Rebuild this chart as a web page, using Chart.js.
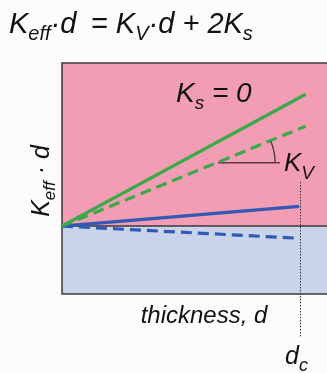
<!DOCTYPE html>
<html>
<head>
<meta charset="utf-8">
<script src="https://cdn.jsdelivr.net/npm/chart.js@4"></script>
<style>
  html, body { margin: 0; padding: 0; background: #fcfcfc; overflow: hidden; }
  #wrap { width: 327px; height: 373px; position: relative; }
</style>
</head>
<body>
<div id="wrap"><canvas id="chart"></canvas></div>
<script>
// Schematic values (arbitrary units): thickness on x, Keff*d on y
const dEnd = [0, 0.92];
const greenSolid = [0, 1.94];   // Ks > 0, without interface term
const greenDashed = [0, 1.47];  // Ks = 0 reference slope
const dEndBlue = [0, 0.895];
const blueSolid = [0, 0.29];
const blueDashed = [0, -0.18];
const dc = 0.9;
const dcSpan = [0.65, -1.63];
const kvLineX = [0.589, 0.823];
const kvLineY = 0.93;

const FONT = '"Liberation Sans", Arial, sans-serif';
const green = '#3ba84a';
const blue = '#3459b4';

function pts(xs, ys) {
  return xs.map((x, i) => ({ x: x, y: ys[i] }));
}

// draws text with subscripts: parts = [[text, isSub], ...]
function drawRich(ctx, x, y, parts, size, subSize, subDrop) {
  parts.forEach(([t, sub]) => {
    ctx.font = 'italic ' + (sub ? subSize : size) + 'px ' + FONT;
    ctx.fillText(t, x, sub ? y + subDrop : y);
    x += ctx.measureText(t).width;
  });
}

function richWidth(ctx, parts, size, subSize) {
  let w = 0;
  parts.forEach(([t, sub]) => {
    ctx.font = 'italic ' + (sub ? subSize : size) + 'px ' + FONT;
    w += ctx.measureText(t).width;
  });
  return w;
}

const decor = {
  id: 'decor',
  beforeDraw(chart) {
    const { ctx, chartArea: a, scales: { y } } = chart;
    const y0 = y.getPixelForValue(0);
    ctx.save();
    ctx.fillStyle = '#fcfcfc';
    ctx.fillRect(0, 0, chart.width, chart.height);
    ctx.fillStyle = '#f29db3';
    ctx.fillRect(a.left, a.top, chart.width - a.left, y0 - a.top);
    ctx.fillStyle = '#c9d4ea';
    ctx.fillRect(a.left, y0, chart.width - a.left, a.bottom - y0);
    ctx.strokeStyle = '#3a3a3a';
    ctx.lineWidth = 1.5;
    ctx.beginPath();
    ctx.moveTo(chart.width, a.top); ctx.lineTo(a.left, a.top);
    ctx.lineTo(a.left, a.bottom); ctx.lineTo(chart.width, a.bottom);
    ctx.moveTo(a.left, y0); ctx.lineTo(chart.width, y0);
    ctx.stroke();
    ctx.restore();
  },
  afterDraw(chart) {
    const { ctx, scales: { x, y } } = chart;
    ctx.save();
    // angle arc for K_V
    const cx = x.getPixelForValue(kvLineX[0]);
    const cy = y.getPixelForValue(kvLineY);
    const sx = x.getPixelForValue(dEnd[1]) - x.getPixelForValue(dEnd[0]);
    const sy = y.getPixelForValue(greenDashed[0]) - y.getPixelForValue(greenDashed[1]);
    const ang = Math.atan2(sy, sx);
    ctx.strokeStyle = '#4a3444';
    ctx.lineWidth = 1.3;
    ctx.beginPath();
    ctx.arc(cx, cy, 57, -ang, 0);
    ctx.stroke();

    ctx.fillStyle = '#111';
    ctx.textBaseline = 'alphabetic';
    drawRich(ctx, 9, 33, [['K', 0], ['eff', 1], ['·d\u2002= K', 0], ['V', 1], ['·d + 2K', 0], ['s', 1]], 29, 20, 7);
    drawRich(ctx, 176, 102, [['K', 0], ['s', 1], [' = 0', 0]], 28, 19, 7);
    drawRich(ctx, 284, 171, [['K', 0], ['V', 1]], 26, 19, 8);
    drawRich(ctx, 285, 364, [['d', 0], ['c', 1]], 25, 18, 7);
    ctx.font = 'italic 24px ' + FONT;
    ctx.textAlign = 'center';
    ctx.fillText('thickness, d', 204, 323);
    // rotated y label
    ctx.translate(49, 181);
    ctx.rotate(-Math.PI / 2);
    ctx.textAlign = 'left';
    const yParts = [['K', 0], ['eff', 1], [' · d', 0]];
    const w = richWidth(ctx, yParts, 25, 17);
    drawRich(ctx, -w / 2, 0, yParts, 25, 17, 6);
    ctx.restore();
  }
};

new Chart(document.getElementById('chart'), {
  type: 'line',
  data: {
    datasets: [
      { data: pts(dEnd, greenSolid), borderColor: green, borderWidth: 3.2 },
      { data: pts(dEnd, greenDashed), borderColor: green, borderWidth: 3.2, borderDash: [11, 6] },
      { data: pts(dEndBlue, blueSolid), borderColor: blue, borderWidth: 3.2 },
      { data: pts(dEndBlue, blueDashed), borderColor: blue, borderWidth: 3.2, borderDash: [11, 6] },
      { data: pts(kvLineX, [kvLineY, kvLineY]), borderColor: '#5a3a50', borderWidth: 1.5 },
      { data: pts([dc, dc], dcSpan), borderColor: '#333', borderWidth: 1, borderDash: [1.5, 1.5], clip: false }
    ]
  },
  options: {
    responsive: true,
    maintainAspectRatio: false,
    animation: false,
    layout: { padding: { left: 62, top: 63, right: 0, bottom: 79 } },
    elements: { point: { radius: 0 }, line: { tension: 0, borderCapStyle: 'butt' } },
    plugins: { legend: { display: false }, tooltip: { enabled: false } },
    scales: {
      x: { type: 'linear', min: 0, max: 1, display: false },
      y: { type: 'linear', min: -1, max: 2.4, display: false }
    }
  },
  plugins: [decor]
});
</script>
</body>
</html>
